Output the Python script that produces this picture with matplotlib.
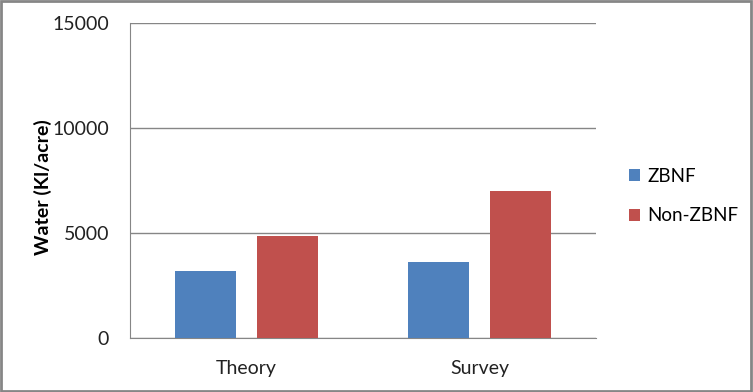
import numpy as np
import matplotlib.pyplot as plt
from matplotlib.patches import Rectangle

# data
categories = ["Theory", "Survey"]
zbnf = [3200, 3600]
non_zbnf = [4880, 6980]
series_names = ["ZBNF", "Non-ZBNF"]
y_ticks = [0, 5000, 10000, 15000]

blue = "#4F81BD"
red = "#C0504D"
grid_grey = "#868686"

plt.rcParams["font.family"] = ["Lato", "DejaVu Sans"]

fig = plt.figure(figsize=(7.53, 3.92), dpi=100)
ax = fig.add_axes([130 / 753, 1 - 338 / 392, 466 / 753, 315 / 392])

x = np.arange(len(categories))
w = 0.258
off = 0.176
b1 = ax.bar(x - off, zbnf, w, color=blue, label=series_names[0], zorder=3)
b2 = ax.bar(x + off, non_zbnf, w, color=red, label=series_names[1], zorder=3)

ax.set_xlim(-0.5, 1.5)
ax.set_ylim(0, 15000)
ax.set_yticks(y_ticks)
ax.set_yticklabels([str(t) for t in y_ticks], fontsize=14, color="#222222")
ax.set_xticks(x)
ax.set_xticklabels(categories, fontsize=14, color="#222222")
ax.tick_params(axis="y", length=0, pad=15)
ax.tick_params(axis="x", length=0, pad=16)
ax.yaxis.grid(True, color=grid_grey, linewidth=1)
ax.set_axisbelow(True)

for s in ["top", "right"]:
    ax.spines[s].set_visible(False)
ax.spines["left"].set_color(grid_grey)
ax.spines["bottom"].set_color(grid_grey)

ax.set_ylabel("Water (Kl/acre)", fontsize=14, fontweight="bold")
ax.yaxis.set_label_coords(-78 / 466, 0.48)

fig.legend(handles=[b1, b2], loc="center left", bbox_to_anchor=(612 / 753, 1 - 196 / 392),
           frameon=False, fontsize=13.5, handlelength=0.6, handleheight=0.6,
           labelspacing=1.2, handletextpad=0.4)

# outer chart border
fig.patches.append(Rectangle((0.001, 0.002), 0.997, 0.995, transform=fig.transFigure,
                             fill=False, edgecolor="#868686", linewidth=2))

fig.savefig("out.png", dpi=100)
